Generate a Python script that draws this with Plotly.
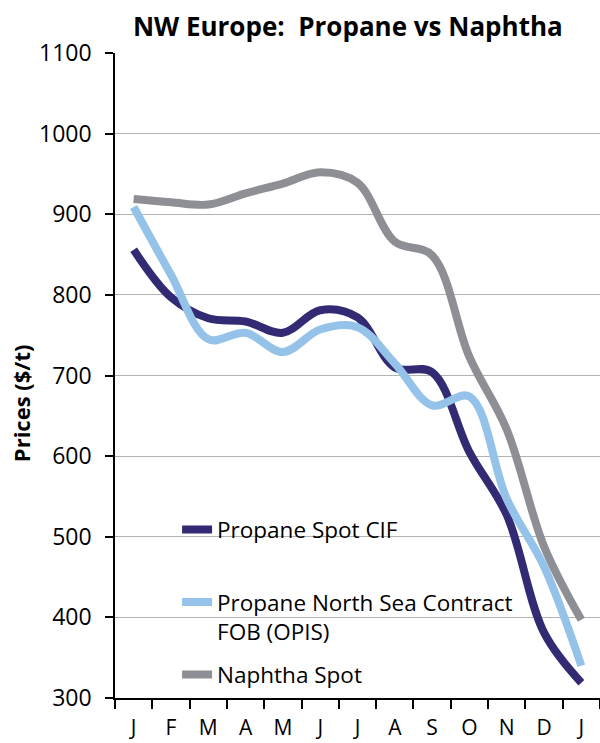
import plotly.graph_objects as go

# Monthly prices, $/t (Jan through the following Jan)
months = ["J", "F", "M", "A", "M", "J", "J", "A", "S", "O", "N", "D", "J"]
propane_spot_cif = [856, 797, 771, 767, 753, 781, 772, 710, 704, 605, 527, 381, 319]
propane_north_sea = [909, 825, 745, 753, 729, 757, 760, 715, 663, 674, 547, 463, 340]
naphtha_spot = [919, 915, 912, 926, 938, 952, 939, 866, 849, 723, 633, 488, 397]

series_names = [
    "Propane Spot CIF<br>\u00a0",
    "Propane North Sea Contract<br>FOB (OPIS)",
    "Naphtha Spot",
]
series_colors = ["#322B74", "#94C2E9", "#8D8F94"]

FONT = "Open Sans"
x_idx = list(range(len(months)))

fig = go.Figure()
for name, vals, color in zip(series_names,
                             [propane_spot_cif, propane_north_sea, naphtha_spot],
                             series_colors):
    fig.add_trace(go.Scatter(
        x=x_idx, y=vals, name=name, mode="lines",
        line=dict(color=color, width=8, shape="spline", smoothing=1.0),
        legendgroup=name,
    ))

fig.update_layout(
    width=600, height=743,
    margin=dict(l=115, r=0, t=53, b=45),
    paper_bgcolor="white", plot_bgcolor="white",
    font=dict(family=FONT, color="black", size=22),
    title=dict(
        text="<b>NW Europe:\u00a0 Propane vs Naphtha</b>",
        font=dict(family=FONT, size=26, color="black"),
        x=0.48, xref="paper", xanchor="center",
        y=1 - 27 / 743, yref="container", yanchor="middle",
    ),
    showlegend=True,
    legend=dict(
        x=0.128, xanchor="left", y=0.294, yanchor="top",
        bgcolor="rgba(0,0,0,0)", borderwidth=0,
        font=dict(family=FONT, size=22.5, color="black"),
        traceorder="grouped", tracegroupgap=11, valign="top",
    ),
    xaxis=dict(
        range=[-0.5, len(months) - 0.5], automargin=False,
        tickmode="array", tickvals=x_idx, ticktext=months,
        ticks="", showgrid=False, zeroline=False,
        showline=True, linecolor="black", linewidth=1.5,
        tickfont=dict(family=FONT, size=21, color="black"),
        ticklabelstandoff=10,
        minor=dict(tickmode="array",
                   tickvals=[i - 0.5 for i in range(len(months) + 1)],
                   ticks="outside", ticklen=9, tickwidth=1.5,
                   tickcolor="black", showgrid=False),
    ),
    yaxis=dict(
        range=[300, 1100], tickmode="linear", tick0=300, dtick=100,
        automargin=False,
        ticks="outside", ticklen=8, tickwidth=1.5, tickcolor="black",
        showline=True, linecolor="black", linewidth=1.5,
        showgrid=True, gridcolor="#B2B2B2", gridwidth=1.3,
        zeroline=False, ticklabelstandoff=9,
        tickfont=dict(family=FONT, size=23, color="black"),
    ),
    annotations=[dict(
        text="<b>Prices ($/t)</b>", textangle=-90,
        x=-0.194, y=0.457, xref="paper", yref="paper",
        xanchor="center", yanchor="middle", showarrow=False,
        font=dict(family=FONT, size=22, color="black"),
    )],
)

fig.write_html("out.html")
